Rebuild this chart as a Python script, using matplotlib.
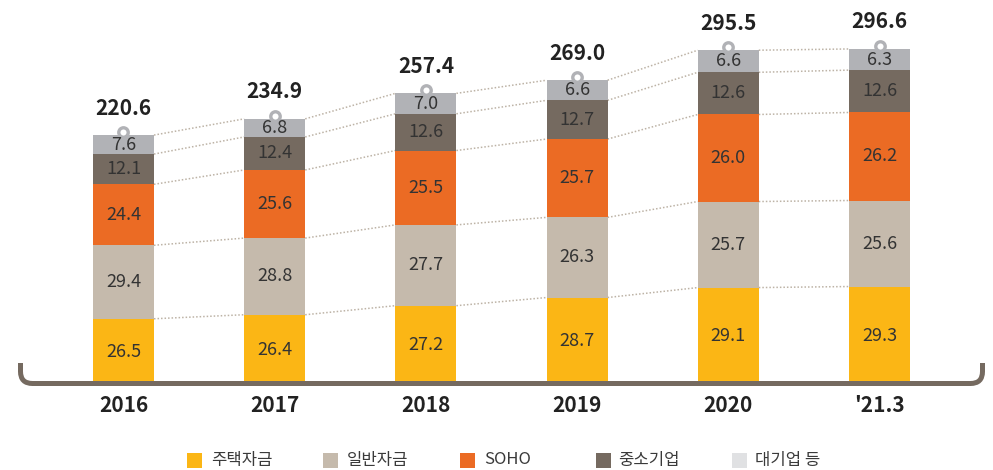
import numpy as np
import matplotlib
matplotlib.use("Agg")
import matplotlib.pyplot as plt
from matplotlib.path import Path
from matplotlib.patches import PathPatch, Rectangle

plt.rcParams['font.family'] = ['Noto Sans CJK KR', 'DejaVu Sans']

# ---- data ----
categories = ["2016", "2017", "2018", "2019", "2020", "'21.3"]
totals = [220.6, 234.9, 257.4, 269.0, 295.5, 296.6]
series_names = ["주택자금", "일반자금", "SOHO", "중소기업", "대기업 등"]
housing = [26.5, 26.4, 27.2, 28.7, 29.1, 29.3]
general = [29.4, 28.8, 27.7, 26.3, 25.7, 25.6]
soho = [24.4, 25.6, 25.5, 25.7, 26.0, 26.2]
sme = [12.1, 12.4, 12.6, 12.7, 12.6, 12.6]
large = [7.6, 6.8, 7.0, 6.6, 6.6, 6.3]

bar_colors = ["#FBB615", "#C5BAAC", "#EB6B24", "#756A60", "#B1B2B6"]
legend_colors = ["#FBB615", "#C5BAAC", "#EB6B24", "#756A60", "#E0E1E3"]

W, H = 993, 470
fig = plt.figure(figsize=(W / 100, H / 100), dpi=100)
ax = fig.add_axes([0, 0, 1, 1])
ax.axis('off')

# pixel mapping
x0, dx = 123.5, 151.2
y0, sc = 385.0, 1.133
ax.set_xlim(-x0 / dx, (W - x0) / dx)
ax.set_ylim(-(H - y0) / sc, y0 / sc)

x = np.arange(len(categories))
bw = 61 / dx
tot = np.array(totals)
shares = [housing, general, soho, sme, large]
bottom = np.zeros(len(x))
bounds = []
for vals, col in zip(shares, bar_colors):
    h = tot * np.array(vals) / 100.0
    ax.bar(x, h, bw, bottom=bottom, color=col, zorder=2, linewidth=0)
    for xi, b, hh, v in zip(x, bottom, h, vals):
        ax.text(xi, b + hh / 2, f"{v:.1f}", ha='center', va='center',
                fontsize=13, color='#333333', zorder=4)
    bottom = bottom + h
    bounds.append(bottom.copy())

# dotted connector lines
for bnd in bounds:
    for i in range(len(x) - 1):
        ax.plot([x[i] + bw / 2, x[i + 1] - bw / 2], [bnd[i], bnd[i + 1]],
                linestyle=(0, (1, 1.3)), color='#BDB3A6', lw=1.1, zorder=1)

# ring markers on top
ax.plot(x, tot + 3 / sc, 'o', ms=6.8, mfc='white', mec='#B1B2B6', mew=2.4, zorder=3)

# totals
for xi, t in zip(x, totals):
    ax.text(xi, t + 27 / sc, f"{t:.1f}", ha='center', va='center',
            fontsize=15, fontweight='bold', color='#222222')

# year labels
for xi, c in zip(x, categories):
    ax.text(xi, -21 / sc, c, ha='center', va='center', fontsize=15,
            fontweight='bold', color='#222222')

# bracket (pixel coords -> figure fraction)
def P(px, py):
    return (px / W, 1 - py / H)

r = 12
yl = 383.5
xl, xr = 20.5, 982.5
verts = [P(xl, 363), P(xl, yl - r), P(xl, yl), P(xl + r, yl), P(xr - r, yl),
         P(xr, yl), P(xr, yl - r), P(xr, 363)]
codes = [Path.MOVETO, Path.LINETO, Path.CURVE3, Path.CURVE3, Path.LINETO,
         Path.CURVE3, Path.CURVE3, Path.LINETO]
fig.patches.append(PathPatch(Path(verts, codes), transform=fig.transFigure,
                             fill=False, edgecolor='#756A60', lw=3.6,
                             capstyle='butt', zorder=5))

# legend
leg_sq_x = [187, 323, 460, 596, 732]
leg_txt_x = [211, 347, 484, 618, 755]
ly = 460
for name, col, sx, tx in zip(series_names, legend_colors, leg_sq_x, leg_txt_x):
    fig.patches.append(Rectangle(P(sx, ly + 7.5), 15 / W, 15 / H,
                                 transform=fig.transFigure, color=col, lw=0))
    fig.text(*P(tx, ly), name, ha='left', va='center', fontsize=12, color='#3a3a3a')

fig.savefig("out.png", dpi=100)
